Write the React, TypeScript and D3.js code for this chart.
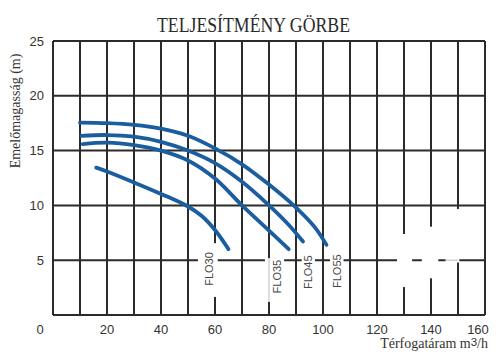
import React from "react";
import * as d3 from "d3";

const titleText = "TELJESÍTMÉNY GÖRBE";
const yAxisTitle = "Emelőmagasság (m)";
const xAxisTitleMain = "Térfogatáram m";
const xAxisTitleSup = "3";
const xAxisTitleEnd = "/h";

const xTickLabels = [0, 20, 40, 60, 80, 100, 120, 140, 160];
const yTickLabels = [5, 10, 15, 20, 25];
const xGridValues = [0, 10, 20, 30, 40, 50, 60, 70, 80, 90, 100, 110, 120, 130, 140, 150, 160];
const yGridValues = [0, 5, 10, 15, 20, 25];

const seriesNames = ["FLO30", "FLO35", "FLO45", "FLO55"];
const flo30: [number, number][] = [[16, 13.45], [20, 13.1], [30, 12.1], [40, 11.05], [50, 9.9], [55, 9.05], [60, 7.75], [65, 6.0]];
const flo35: [number, number][] = [[11, 15.6], [20, 15.72], [30, 15.5], [40, 15.0], [50, 14.1], [60, 12.45], [70, 10.0], [80, 7.7], [87.3, 6.0]];
const flo45: [number, number][] = [[10.5, 16.35], [20, 16.42], [30, 16.27], [40, 15.8], [50, 15.0], [60, 13.85], [70, 12.15], [80, 10.0], [87, 8.3], [92.6, 6.7]];
const flo55: [number, number][] = [[10, 17.55], [20, 17.5], [30, 17.35], [40, 17.0], [50, 16.35], [60, 15.2], [70, 13.75], [80, 11.9], [90, 9.8], [97, 8.0], [101.3, 6.4]];
const seriesValues = [flo30, flo35, flo45, flo55];

// label anchors (data units) for the series names
const labelAnchorX = [57.9, 82.8, 94.6, 105.1];
const labelAnchorY = [4.2, 3.5, 3.9, 4.0];

// white blanked-out areas of the grid (data units: x0, x1, y0, y1)
const blankAreas: [number, number, number, number][] = [
  [53.7, 61.0, 1.65, 6.55],
  [78.5, 85.6, 1.2, 5.2],
  [92.1, 97.0, 2.4, 5.4],
  [102.6, 107.6, 2.5, 5.5],
  [127.4, 133.0, 2.55, 7.39],
  [136.6, 142.7, 3.35, 8.06],
  [145.4, 150.5, 4.79, 9.67],
];
// faint remnants inside blanked areas: [x0, y0, x1, y1]
const faintLines: [number, number, number, number][] = [
  [80, 1.2, 80, 5.2],
  [145.4, 5, 150, 5],
];

export default function App() {
  const W = 500, H = 360;
  const left = 53, right = 485, top = 41, bottom = 315;
  const x = d3.scaleLinear().domain([0, 160]).range([left, right]);
  const y = d3.scaleLinear().domain([0, 25]).range([bottom, top]);
  const line = d3.line<[number, number]>().x(d => x(d[0])).y(d => y(d[1])).curve(d3.curveCatmullRom.alpha(0.5));
  const gridColor = "#2b2b2b";
  const blue = "#1b5e9f";
  const textColor = "#333";

  return (
    <svg width={W} height={H} style={{ position: "absolute", left: 0, top: 0, background: "#fff" }}>
      <rect x={0} y={0} width={W} height={H} fill="#fff" />
      <text x={253.5} y={31.5} textAnchor="middle" fontFamily="'Liberation Serif', serif" fontSize={21} textLength={193} lengthAdjust="spacingAndGlyphs" fill="#2a2a2a">{titleText}</text>

      {xGridValues.map(v => (
        <line key={"gx" + v} x1={x(v)} x2={x(v)} y1={y(0)} y2={y(25)} stroke={gridColor} strokeWidth={2} />
      ))}
      {yGridValues.map(v => (
        <line key={"gy" + v} x1={x(0)} x2={x(160)} y1={y(v)} y2={y(v)} stroke={gridColor} strokeWidth={2} />
      ))}

      {blankAreas.map((b, i) => (
        <rect key={"b" + i} x={x(b[0])} y={y(b[3])} width={x(b[1]) - x(b[0])} height={y(b[2]) - y(b[3])} fill="#fff" />
      ))}
      {faintLines.map((l, i) => (
        <line key={"f" + i} x1={x(l[0])} y1={y(l[1])} x2={x(l[2])} y2={y(l[3])} stroke="#aaa" strokeWidth={0.8} />
      ))}

      {seriesValues.map((s, i) => (
        <path key={"s" + i} d={line(s) || ""} fill="none" stroke={blue} strokeWidth={3.8} strokeLinecap="round" />
      ))}

      {seriesNames.map((n, i) => (
        <text key={"l" + n} transform={`translate(${x(labelAnchorX[i])},${y(labelAnchorY[i])}) rotate(-90)`} textAnchor="middle" dominantBaseline="central" fontFamily="'Liberation Sans', Arial, sans-serif" fontSize={11} fill="#444">{n}</text>
      ))}

      {yTickLabels.map(v => (
        <text key={"yt" + v} x={44} y={y(v)} textAnchor="end" dominantBaseline="central" fontFamily="'Liberation Sans', Arial, sans-serif" fontSize={13} fill={textColor}>{v}</text>
      ))}
      {xTickLabels.map((v, i) => {
        const px = i === 0 ? x(v) - 13 : i === xTickLabels.length - 1 ? x(v) - 7 : x(v);
        return (
          <text key={"xt" + v} x={px} y={329.5} textAnchor="middle" dominantBaseline="central" fontFamily="'Liberation Sans', Arial, sans-serif" fontSize={13} fill={textColor}>{v}</text>
        );
      })}

      <text transform={`translate(20,${111}) rotate(-90)`} textAnchor="middle" fontFamily="'Liberation Serif', serif" fontSize={14} fill={textColor}>{yAxisTitle}</text>
      <text x={488} y={348} textAnchor="end" fontFamily="'Liberation Serif', serif" fontSize={14} fill={textColor}>
        {xAxisTitleMain}
        <tspan fontSize={11.5} dy={-2} fontFamily="'Liberation Sans', Arial, sans-serif">{xAxisTitleSup}</tspan>
        <tspan dy={2}>{xAxisTitleEnd}</tspan>
      </text>
    </svg>
  );
}
